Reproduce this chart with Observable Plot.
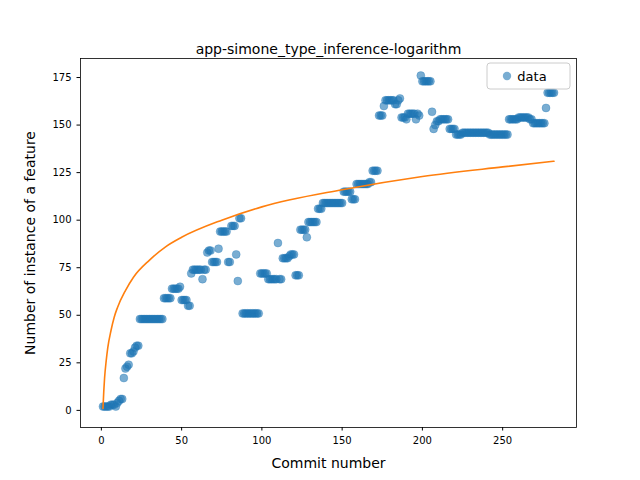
<!DOCTYPE html>
<html>
<head>
<meta charset="utf-8">
<script src="https://cdn.jsdelivr.net/npm/d3@7"></script>
<script src="https://cdn.jsdelivr.net/npm/@observablehq/plot@0.6"></script>
<style>
  body { margin: 0; background: #fff; }
  #chart svg { font-family: "DejaVu Sans", sans-serif; }
</style>
</head>
<body>
<div id="chart"></div>
<script>
// y values for commits 1..282
const counts = [
  2,2,2,2,2,3,3,3,2,4,
  5,6,6,17,22,23,24,30,30,31,
  33,34,34,48,48,48,48,48,48,48,
  48,48,48,48,48,48,48,48,59,59,
  59,59,59,64,64,64,64,64,65,58,
  58,58,58,55,55,72,74,74,74,74,
  74,74,69,74,74,83,84,84,78,78,
  78,78,85,94,94,94,94,94,78,78,
  97,97,97,82,68,101,101,51,51,51,
  51,51,51,51,51,51,51,51,72,72,
  72,72,72,69,69,69,69,69,69,88,
  69,69,80,80,80,80,81,82,82,82,
  71,71,71,95,95,95,95,91,99,99,
  99,99,99,99,106,106,106,109,109,109,
  109,109,109,109,109,109,109,109,109,109,
  115,115,115,115,115,111,111,111,119,119,
  119,119,119,119,119,119,120,120,126,126,
  126,126,155,155,155,160,163,163,163,163,
  163,163,161,161,163,164,154,154,154,153,
  156,156,156,156,156,153,156,155,176,173,
  173,173,173,173,173,157,148,150,152,152,
  153,153,153,153,153,153,148,148,148,148,
  145,145,145,145,146,146,146,146,146,146,
  146,146,146,146,146,146,146,146,146,146,
  146,145,145,145,145,145,145,145,145,145,
  145,145,145,153,153,153,153,153,153,154,
  154,154,154,154,154,154,153,153,151,151,
  151,151,151,151,151,151,159,167,167,167,
  167,167
]
const commits = counts.map((d, i) => i + 1)

// fitted logarithm curve
const fitX = [1, 1.5, 2, 3, 4, 6, 8, 10, 15, 20, 30, 40, 50, 75, 100, 150, 200, 250, 282]
const fitY = [1, 10, 17, 26, 33, 42, 49, 54, 63, 70, 79, 86, 91, 100, 107, 116, 123, 128, 131]

const xTicks = [0, 50, 100, 150, 200, 250]
const yTicks = [0, 25, 50, 75, 100, 125, 150, 175]

const points = commits.map((x, i) => ({x, y: counts[i]}))
const fit = fitX.map((x, i) => ({x, y: fitY[i]}))

let chart = Plot.plot({
  width: 640,
  height: 480,
  marginTop: 58,
  marginBottom: 53,
  marginLeft: 80,
  marginRight: 64,
  style: {fontSize: "10px", fontFamily: "DejaVu Sans", color: "#000"},
  x: {domain: [-13, 296], ticks: xTicks, label: "Commit number", labelArrow: "none", labelAnchor: "center", labelOffset: 40, tickSize: 3.5},
  y: {domain: [-9, 185], ticks: yTicks, label: "Number of instance of a feature", labelArrow: "none", labelAnchor: "center", labelOffset: 55, tickSize: 3.5},
  marks: [
    Plot.frame({stroke: "#000", strokeWidth: 0.8}),
    Plot.dot(points, {x: "x", y: "y", r: 4, fill: "#1f77b4", fillOpacity: 0.6, stroke: "#1f77b4", strokeOpacity: 0.6, strokeWidth: 0.5}),
    Plot.line(fit, {x: "x", y: "y", stroke: "#ff7f0e", strokeWidth: 1.6, curve: "monotone-x"}),
    Plot.text(["app-simone_type_inference-logarithm"], {frameAnchor: "top", dy: -14, fontSize: 14})
  ]
})

const svg = d3.select(chart)
svg.selectAll("[aria-label='x-axis label'] text, [aria-label='y-axis label'] text").style("font-size", "14px")
// legend box, matplotlib style
const lg = svg.append("g")
lg.append("rect").attr("x", 487).attr("y", 63).attr("width", 83).attr("height", 26)
  .attr("rx", 3).attr("fill", "#fff").attr("fill-opacity", 0.8).attr("stroke", "#ccc")
lg.append("circle").attr("cx", 507).attr("cy", 76).attr("r", 4.2)
  .attr("fill", "#1f77b4").attr("fill-opacity", 0.6)
lg.append("text").attr("x", 532).attr("y", 80.5).attr("font-size", 13).text("data")

d3.select('#chart').append(() => chart)
</script>
</body>
</html>
